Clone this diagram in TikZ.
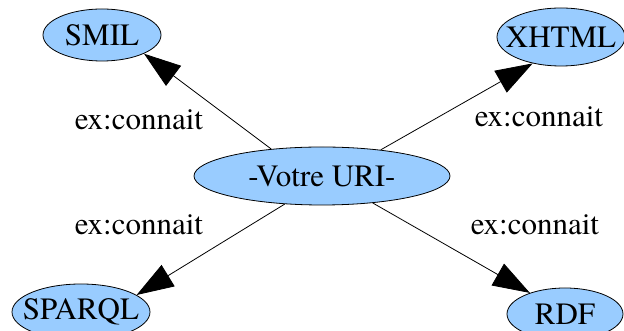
\documentclass[tikz,border=0pt]{standalone}
\usepackage{fontspec}
\setmainfont{texgyretermes}[Extension=.otf, UprightFont=*-regular]
\usetikzlibrary{shapes.geometric,arrows.meta}
\definecolor{nodeblue}{HTML}{99CCFF}
\tikzset{
  ell/.style={ellipse, draw=black, line width=0.8pt, fill=nodeblue, inner sep=0pt,
    font=\fontsize{31}{36}\selectfont},
  lbl/.style={font=\fontsize{31}{36}\selectfont, inner sep=0pt},
  arr/.style={line width=0.8pt, -{Triangle[length=37pt,width=25pt]}}
}
\begin{document}
\begin{tikzpicture}[x=1pt,y=1pt]
\useasboundingbox (0,0) rectangle (624,331);
\node[ell, minimum width=256pt, minimum height=58pt] (c) at (322,155) {\makebox[0pt]{-Votre URI-}};
\node[ell, minimum width=118pt, minimum height=52pt] (smil) at (102,296) {\makebox[0pt]{SMIL}};
\node[ell, minimum width=128pt, minimum height=58pt] (xhtml) at (561,294) {\makebox[0pt]{XHTML}};
\node[ell, minimum width=138pt, minimum height=56pt] (sparql) at (81,19) {\makebox[0pt]{SPARQL}};
\node[ell, minimum width=116pt, minimum height=52pt] (rdf) at (565,17) {\makebox[0pt]{RDF}};
\node[lbl] (l1) at (139,211) {ex:connait};
\node[lbl] (l2) at (539,214) {ex:connait};
\node[lbl] (l3) at (139,106) {ex:connait};
\node[lbl] (l4) at (535,106) {ex:connait};
\draw[arr] (c.152) -- (smil.-24);
\draw[arr] (c.24) -- (xhtml.223);
\draw[arr] (c.217) -- (sparql.17);
\draw[arr] (c.-28) -- (rdf.149);
\end{tikzpicture}
\end{document}
